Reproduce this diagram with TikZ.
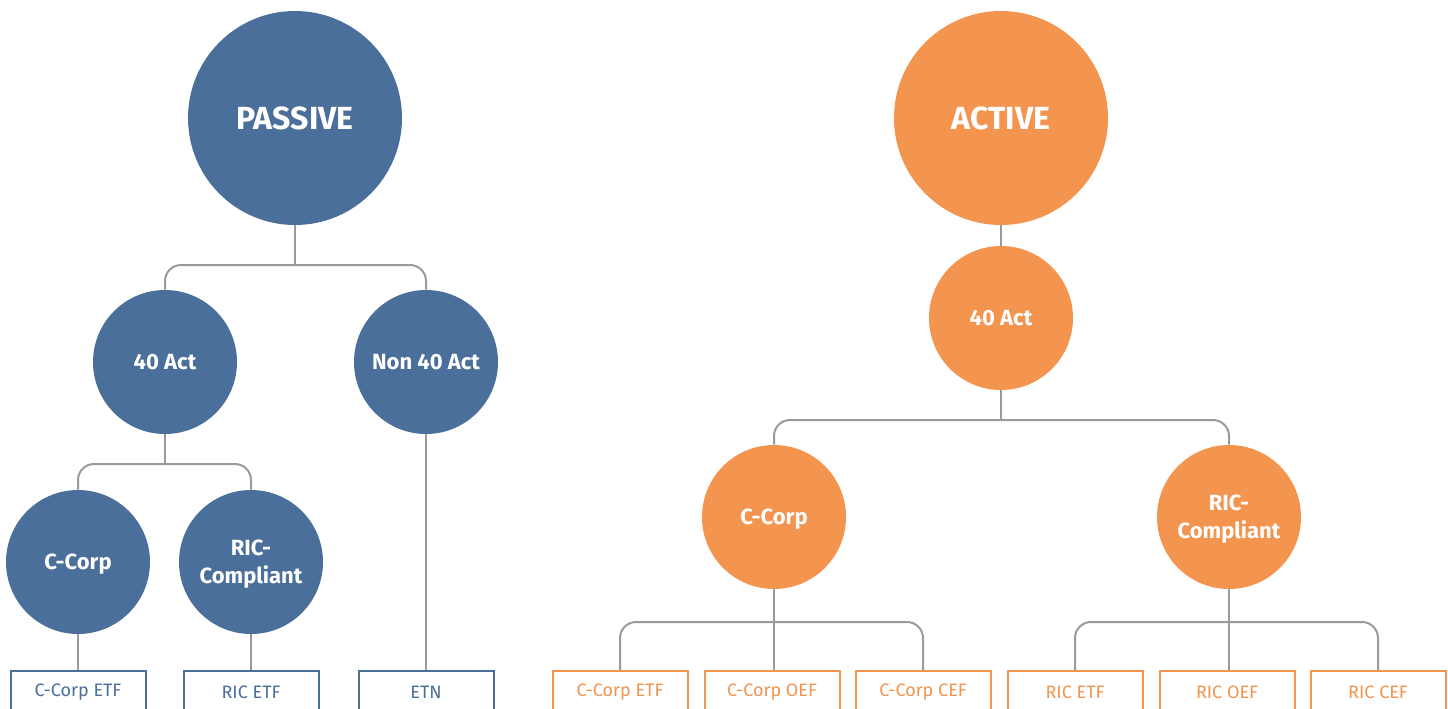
\documentclass[tikz,border=0pt]{standalone}
\usepackage{fontspec}
\setmainfont{Fira Sans}
\definecolor{pblue}{HTML}{4B6F9B}
\definecolor{aorange}{HTML}{F3944F}
\definecolor{lgray}{HTML}{9A9A9C}
\begin{document}
\begin{tikzpicture}[x=0.5pt,y=-0.5pt,
  bigc/.style={circle,inner sep=0pt,minimum size=107pt,text=white,font=\fontsize{16}{19}\selectfont\bfseries},
  smallc/.style={circle,inner sep=0pt,minimum size=72pt,text depth=0pt,text=white,align=center,font=\fontsize{11}{14}\selectfont\bfseries},
  leaf/.style={draw,line width=1pt,fill=white,anchor=north,minimum width=67.5pt,minimum height=21pt,inner sep=0pt,font=\fontsize{9}{11}\selectfont},
  conn/.style={draw=lgray,line width=1pt},
  rconn/.style={conn,rounded corners=8pt}]
\useasboundingbox (0,0) rectangle (1448,708);
% passive tree
\node[bigc,fill=pblue] (passive) at (295,118) {PASSIVE};
\node[smallc,fill=pblue] (p40) at (165,362) {40 Act};
\node[smallc,fill=pblue] (pn40) at (426,362) {Non 40 Act};
\node[smallc,fill=pblue] (pcc) at (78,562) {C-Corp};
\node[smallc,fill=pblue] (pric) at (251,562) {RIC-\\Compliant};
\node[leaf,draw=pblue,text=pblue] (pccetf) at (78,670) {C-Corp ETF};
\node[leaf,draw=pblue,text=pblue] (pricetf) at (251,670) {RIC ETF};
\node[leaf,draw=pblue,text=pblue] (petn) at (426,670) {ETN};
\coordinate (pj1) at (295,265);
\coordinate (pj2) at (165,464);
\draw[conn] (passive) -- (pj1);
\draw[rconn] (p40.north) -- (p40.north |- pj1) -- (pn40.north |- pj1) -- (pn40.north);
\draw[conn] (p40) -- (pj2);
\draw[rconn] (pcc.north) -- (pcc.north |- pj2) -- (pric.north |- pj2) -- (pric.north);
\draw[conn] (pn40) -- (petn);
\draw[conn] (pcc) -- (pccetf);
\draw[conn] (pric) -- (pricetf);
% active tree
\node[bigc,fill=aorange] (active) at (1001,118) {ACTIVE};
\node[smallc,fill=aorange] (a40) at (1001,318) {40 Act};
\node[smallc,fill=aorange] (acc) at (774,517) {C-Corp};
\node[smallc,fill=aorange] (aric) at (1229,517) {RIC-\\Compliant};
\node[leaf,draw=aorange,text=aorange] (accetf) at (620,670) {C-Corp ETF};
\node[leaf,draw=aorange,text=aorange] (accoef) at (772,670) {C-Corp OEF};
\node[leaf,draw=aorange,text=aorange] (acccef) at (923,670) {C-Corp CEF};
\node[leaf,draw=aorange,text=aorange] (aricetf) at (1075,670) {RIC ETF};
\node[leaf,draw=aorange,text=aorange] (aricoef) at (1227,670) {RIC OEF};
\node[leaf,draw=aorange,text=aorange] (ariccef) at (1378,670) {RIC CEF};
\coordinate (aj1) at (1001,420);
\coordinate (aj2) at (774,622);
\coordinate (aj3) at (1229,622);
\draw[conn] (active) -- (a40);
\draw[conn] (a40) -- (aj1);
\draw[rconn] (acc.north) -- (acc.north |- aj1) -- (aric.north |- aj1) -- (aric.north);
\draw[conn] (acc.south) -- (acc.south |- accoef.north);
\draw[rconn] (accetf.north) -- (accetf.north |- aj2) -- (acccef.north |- aj2) -- (acccef.north);
\draw[conn] (aric.south) -- (aric.south |- aricoef.north);
\draw[rconn] (aricetf.north) -- (aricetf.north |- aj3) -- (ariccef.north |- aj3) -- (ariccef.north);
\end{tikzpicture}
\end{document}
